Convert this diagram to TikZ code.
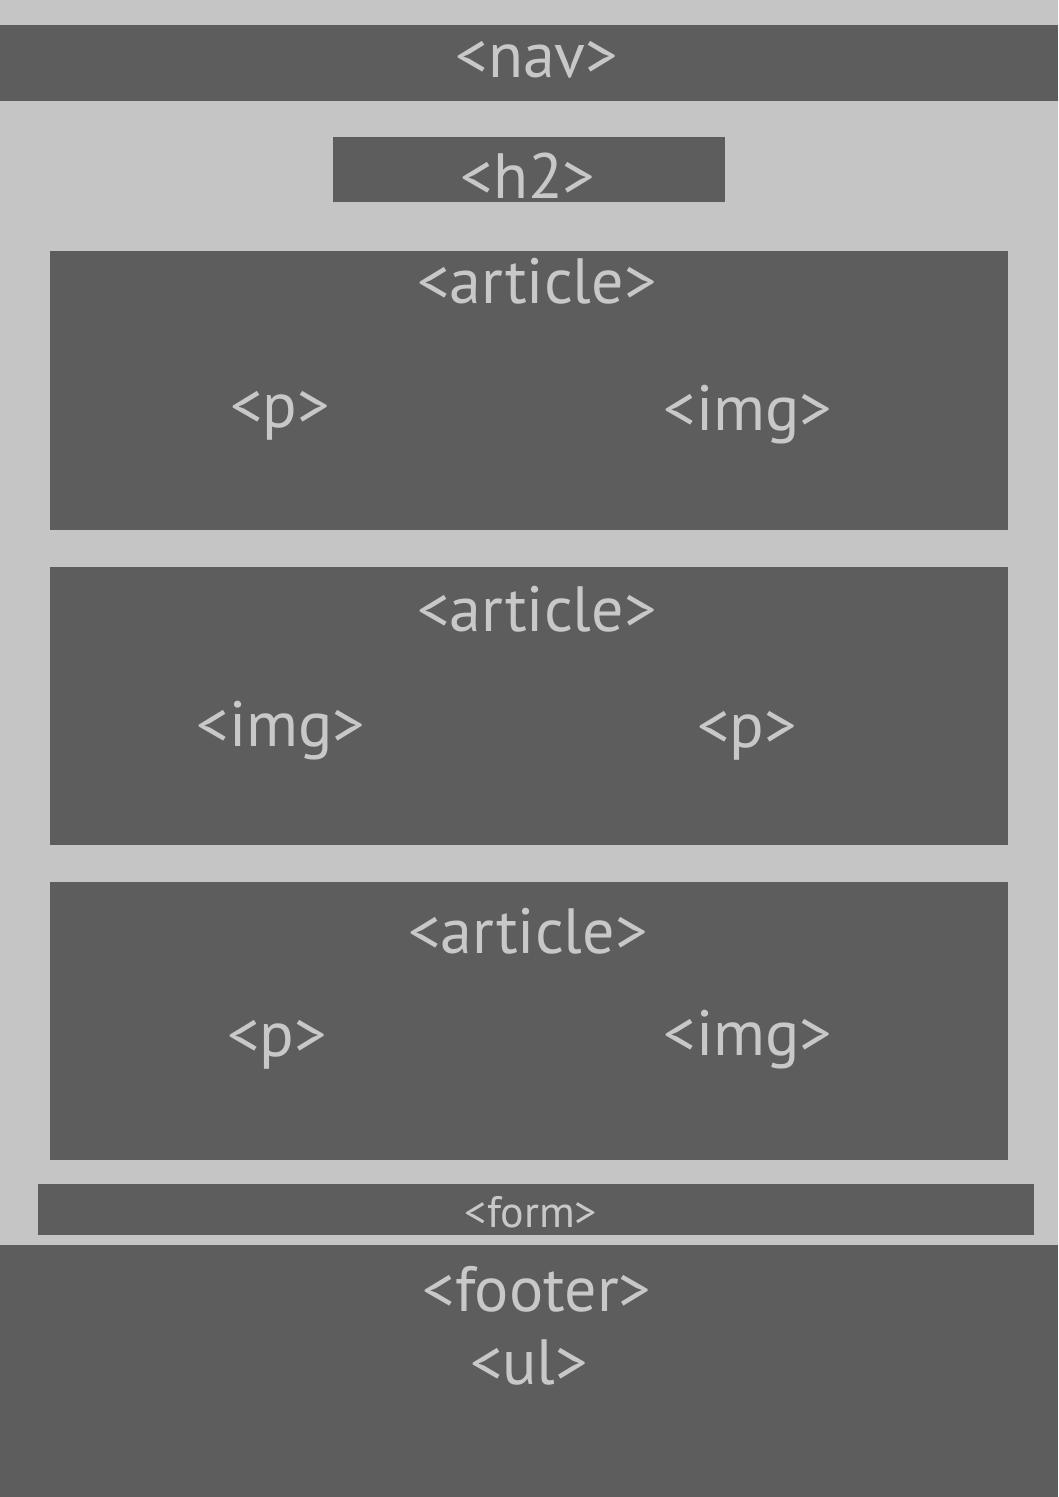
\documentclass[tikz,border=0pt]{standalone}
\usepackage{fontspec}
\setmainfont{PT Sans}
\usepackage{tikz}

\definecolor{pagebg}{HTML}{C5C5C5}
\definecolor{blockbg}{HTML}{5D5D5D}
\definecolor{tagtext}{HTML}{C8C8C8}

\begin{document}
\begin{tikzpicture}[x=0.75pt,y=-0.75pt,
  block/.style={fill=blockbg,draw=none},
  tag/.style={text=tagtext,anchor=base,inner sep=0pt,font=\fontsize{48}{50}\selectfont},
  smalltag/.style={tag,font=\fontsize{33}{35}\selectfont}]
\fill[pagebg] (0,0) rectangle (1058,1497);
\useasboundingbox (0,0) rectangle (1058,1497);
% page blocks
\fill[block] (0,25) rectangle (1058,101);
\fill[block] (333,137) rectangle (725,202);
\fill[block] (50,251) rectangle (1008,530);
\fill[block] (50,567) rectangle (1008,845);
\fill[block] (50,882) rectangle (1008,1160);
\fill[block] (38,1184) rectangle (1034,1235);
\fill[block] (0,1245) rectangle (1058,1497);
% tags
\node[tag] (nav) at (537,77) {<nav>};
\node[tag] (h2) at (528,198) {<h2>};
\node[tag] (art1) at (537,303) {<article>};
\node[tag] (p1) at (280,427) {<p>};
\node[tag] (img1) at (748,430) {<img>};
\node[tag] (art2) at (537,631) {<article>};
\node[tag] (img2) at (281,746) {<img>};
\node[tag] (p2) at (747,747) {<p>};
\node[tag] (art3) at (528,953) {<article>};
\node[tag] (p3) at (277,1056) {<p>};
\node[tag] (img3) at (748,1055) {<img>};
\node[smalltag] (form) at (531,1227) {<form>};
\node[tag] (footer) at (537,1311) {<footer>};
\node[tag] (ul) at (529,1384) {<ul>};
\end{tikzpicture}
\end{document}
